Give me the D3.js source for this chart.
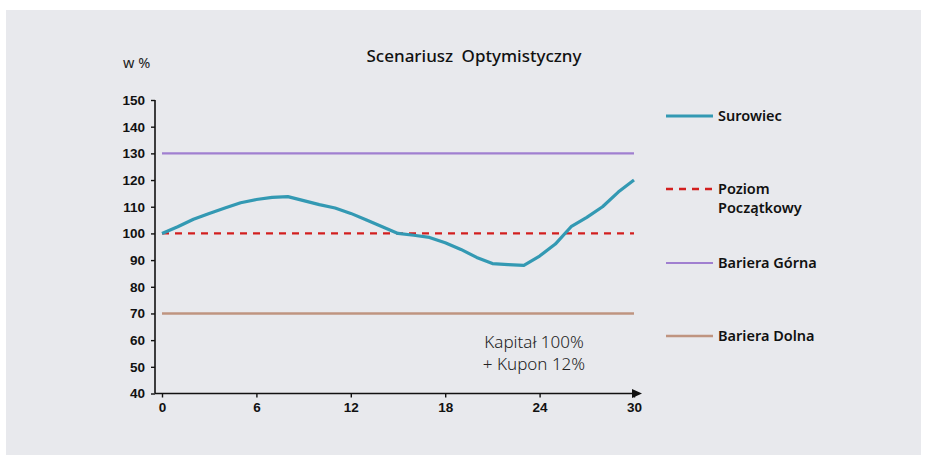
<!DOCTYPE html>
<html>
<head>
<meta charset="utf-8">
<script src="https://cdn.jsdelivr.net/npm/d3@7"></script>
<style>
  body { margin: 0; background: #fff; }
  svg { display: block; font-family: "Noto Sans", "DejaVu Sans", sans-serif; }
</style>
</head>
<body>
<svg width="926" height="459"></svg>
<script>
var days = d3.range(0, 31);
var surowiec = [100, 102.5, 105.3, 107.5, 109.5, 111.5, 112.7, 113.5, 113.8, 112.3,
                110.8, 109.5, 107.5, 105, 102.5, 100, 99.3, 98.5, 96.5, 94,
                91, 88.7, 88.3, 88, 91.5, 96, 102.5, 106, 110, 115.5, 120];
var poziomPoczatkowy = 100;
var barieraGorna = 130;
var barieraDolna = 70;
var yTicks = [40, 50, 60, 70, 80, 90, 100, 110, 120, 130, 140, 150];
var xTicks = [0, 6, 12, 18, 24, 30];

var svg = d3.select('svg');

svg.append('rect')
   .attr('x', 6).attr('y', 10)
   .attr('width', 915).attr('height', 445)
   .attr('fill', '#e8e9ed');

var x = d3.scaleLinear().domain([0, 30]).range([162, 634]);
var y = d3.scaleLinear().domain([40, 150]).range([393.5, 100]);

// y axis
var yAxis = svg.append('g')
   .attr('transform', 'translate(155,0)')
   .call(d3.axisLeft(y).tickValues(yTicks).tickSize(4).tickPadding(6));
yAxis.select('.domain').attr('d', 'M0,' + y(150) + 'V' + y(40)).attr('stroke', '#111').attr('stroke-width', 1.6);
yAxis.selectAll('.tick line').attr('stroke', '#111').attr('stroke-width', 1.4);
yAxis.selectAll('.tick text').attr('fill', '#111').attr('font-size', 13.5).attr('font-weight', 600);

// x axis
var xAxis = svg.append('g')
   .attr('transform', 'translate(0,' + y(40) + ')')
   .call(d3.axisBottom(x).tickValues(xTicks).tickSize(4).tickPadding(5));
xAxis.select('.domain').attr('d', 'M155,0H634').attr('stroke', '#111').attr('stroke-width', 1.6);
xAxis.selectAll('.tick line').attr('stroke', '#111').attr('stroke-width', 1.4);
xAxis.selectAll('.tick text').attr('fill', '#111').attr('font-size', 13.5).attr('font-weight', 600);
xAxis.append('path')
   .attr('d', 'M632,-4.5L642,0L632,4.5Z')
   .attr('fill', '#111');

// horizontal levels
var levels = [
  { v: barieraGorna, color: '#a07fd0', width: 2.2, dash: null },
  { v: barieraDolna, color: '#bf9480', width: 2.6, dash: null },
  { v: poziomPoczatkowy, color: '#d21f1f', width: 2.4, dash: '7,6' }
];
svg.selectAll('line.level')
   .data(levels)
   .enter().append('line')
     .attr('class', 'level')
     .attr('x1', x(0)).attr('x2', x(30))
     .attr('y1', function(d) { return y(d.v); })
     .attr('y2', function(d) { return y(d.v); })
     .attr('stroke', function(d) { return d.color; })
     .attr('stroke-width', function(d) { return d.width; })
     .attr('stroke-dasharray', function(d) { return d.dash; });

// surowiec
var line = d3.line()
  .x(function(d, i) { return x(days[i]); })
  .y(function(d) { return y(d); });
svg.append('path')
   .datum(surowiec)
   .attr('d', line)
   .attr('fill', 'none')
   .attr('stroke', '#3399b3')
   .attr('stroke-width', 3.2)
   .attr('stroke-linejoin', 'round');

// title and unit
svg.append('text')
   .attr('x', 474).attr('y', 62)
   .attr('text-anchor', 'middle')
   .attr('font-size', 17).attr('font-weight', 500).attr('fill', '#111')
   .attr('word-spacing', 4)
   .text('Scenariusz Optymistyczny');
svg.append('text')
   .attr('x', 123).attr('y', 68)
   .attr('font-size', 14.5).attr('fill', '#222')
   .text('w %');

// annotation
var note = svg.append('text')
   .attr('text-anchor', 'middle')
   .attr('font-size', 17).attr('font-weight', 300).attr('fill', '#222');
note.append('tspan').attr('x', 534).attr('y', 348).text('Kapitał 100%');
note.append('tspan').attr('x', 534).attr('y', 370).text('+ Kupon 12%');

// legend
var legend = [
  { lines: ['Surowiec'], color: '#3399b3', width: 3.2, dash: null, y: 116 },
  { lines: ['Poziom', 'Początkowy'], color: '#d21f1f', width: 2.4, dash: '7,6', y: 189 },
  { lines: ['Bariera Górna'], color: '#a07fd0', width: 2.2, dash: null, y: 263 },
  { lines: ['Bariera Dolna'], color: '#bf9480', width: 2.6, dash: null, y: 336 }
];
var lg = svg.selectAll('g.legend')
   .data(legend)
   .enter().append('g')
     .attr('class', 'legend')
     .attr('transform', function(d) { return 'translate(666,' + d.y + ')'; });
lg.append('line')
  .attr('x1', 0).attr('x2', 47)
  .attr('stroke', function(d) { return d.color; })
  .attr('stroke-width', function(d) { return d.width; })
  .attr('stroke-dasharray', function(d) { return d.dash; });
lg.append('text')
  .attr('font-size', 14.5).attr('font-weight', 600).attr('fill', '#111')
  .selectAll('tspan')
  .data(function(d) { return d.lines; })
  .enter().append('tspan')
    .attr('x', 52)
    .attr('y', function(d, i) { return 5 + i * 19; })
    .text(function(d) { return d; });
</script>
</body>
</html>
